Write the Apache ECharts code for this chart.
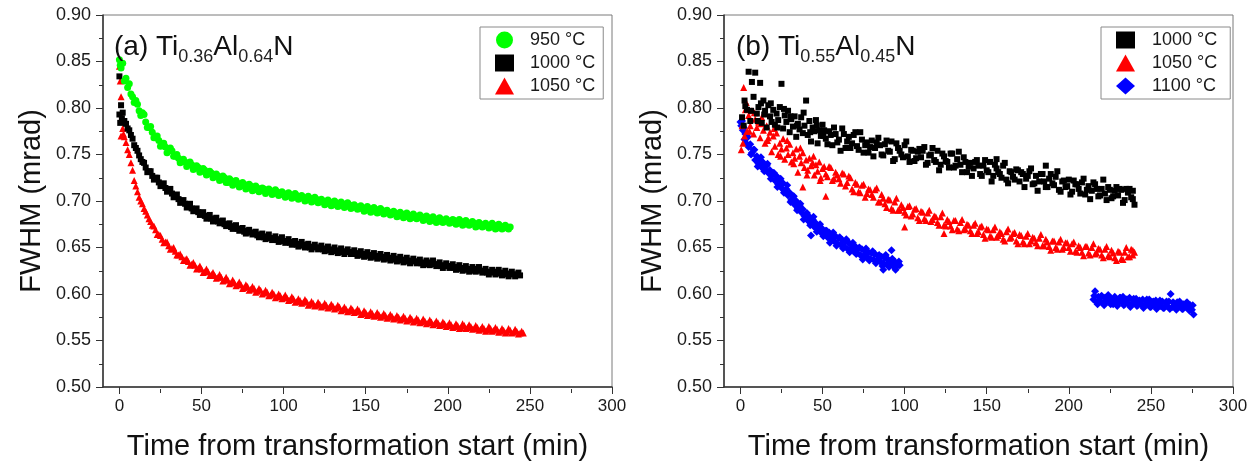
<!DOCTYPE html>
<html>
<head>
<meta charset="utf-8">
<script src="https://cdn.jsdelivr.net/npm/echarts@6/dist/echarts.min.js"></script>
<style>
html,body{margin:0;padding:0;background:#fff;}
#chart{width:1258px;height:466px;}
</style>
</head>
<body>
<div id="chart"></div>
<script>
// ---------- data (time in min, FWHM in mrad) ----------
const xTickLabels = [0, 50, 100, 150, 200, 250, 300];
const xMinorTicks = [25, 75, 125, 175, 225, 275];
const yTickLabels = [0.50, 0.55, 0.60, 0.65, 0.70, 0.75, 0.80, 0.85, 0.90];

// (a) Ti0.36Al0.64N
const a950 = [[0,0.852],[0.5,0.846],[1,0.843],[2,0.848],[3,0.829],[4,0.832],[5,0.822],[6,0.826],[7,0.815],[8,0.812],[9,0.806],[10,0.808],
[12,0.797],[14,0.795],[16,0.785],[18,0.779],[20,0.774],[22,0.768],[24,0.765],[26,0.760],[28,0.758],[30,0.754],[32,0.754],[34,0.748],[36,0.746],[38,0.743],[40,0.742],[42,0.739],[44,0.739],[46,0.735],[48,0.736],[50,0.732],[52,0.733],[54,0.729],[56,0.730],[58,0.726],[60,0.727],[62,0.723],[64,0.725],[66,0.720],[68,0.722],[70,0.719],[72,0.719],[74,0.716],[76,0.718],[78,0.714],[80,0.716],[82,0.712],[84,0.714],[86,0.711],[88,0.713],[90,0.710],[92,0.711],[94,0.708],[96,0.710],[98,0.707],[100,0.708],[102,0.705],[104,0.707],[106,0.704],[108,0.706],[110,0.703],[112,0.704],[114,0.701],[116,0.703],[118,0.700],[120,0.702],[122,0.699],[124,0.700],[126,0.697],[128,0.699],[130,0.696],[132,0.698],[134,0.695],[136,0.697],[138,0.694],[140,0.696],[142,0.693],[144,0.694],[146,0.692],[148,0.693],[150,0.690],[152,0.692],[154,0.689],[156,0.691],[158,0.688],[160,0.690],[162,0.687],[164,0.688],[166,0.686],[168,0.687],[170,0.684],[172,0.686],[174,0.683],[176,0.685],[178,0.682],[180,0.684],[182,0.682],[184,0.683],[186,0.680],[188,0.682],[190,0.679],[192,0.681],[194,0.678],[196,0.680],[198,0.678],[200,0.679],[202,0.677],[204,0.679],[206,0.676],[208,0.678],[210,0.675],[212,0.677],[214,0.675],[216,0.676],[218,0.673],[220,0.675],[222,0.673],[224,0.674],[226,0.672],[228,0.674],[230,0.671],[232,0.673],[234,0.671],[236,0.672],[238,0.672]];
const a950Odd = [[11,0.804],[13,0.792],[15,0.793],[17,0.779],[19,0.780],[21,0.768],[23,0.770],[25,0.759],[27,0.762],[29,0.752],[31,0.757],[33,0.748],[35,0.750],[37,0.741],[39,0.745],[41,0.737],[43,0.742],[45,0.734],[47,0.738],[49,0.731],[51,0.735],[53,0.728],[55,0.732],[57,0.725],[59,0.729],[61,0.722],[63,0.727],[65,0.720],[67,0.724],[69,0.717],[71,0.722],[73,0.715],[75,0.720],[77,0.713],[79,0.718],[81,0.711],[83,0.716],[85,0.710],[87,0.714],[89,0.708],[91,0.713],[93,0.707],[95,0.712],[97,0.706],[99,0.710],[101,0.704],[103,0.709],[105,0.703],[107,0.708],[109,0.702],[111,0.706],[113,0.700],[115,0.705],[117,0.699],[119,0.704],[121,0.698],[123,0.702],[125,0.696],[127,0.701],[129,0.695],[131,0.700],[133,0.694],[135,0.699],[137,0.693],[139,0.698],[141,0.692],[143,0.696],[145,0.691],[147,0.695],[149,0.689],[151,0.694],[153,0.688],[155,0.693],[157,0.687],[159,0.692],[161,0.686],[163,0.690],[165,0.685],[167,0.689],[169,0.683],[171,0.688],[173,0.682],[175,0.687],[177,0.681],[179,0.686],[181,0.681],[183,0.685],[185,0.679],[187,0.684],[189,0.678],[191,0.683],[193,0.677],[195,0.682],[197,0.677],[199,0.681],[201,0.676],[203,0.680],[205,0.675],[207,0.680],[209,0.674],[211,0.679],[213,0.674],[215,0.678],[217,0.672],[219,0.677],[221,0.672],[223,0.676],[225,0.671],[227,0.676],[229,0.670],[231,0.675],[233,0.670],[235,0.674],[237,0.670]];

const a1000 = [[0,0.834],[0,0.793],[0.5,0.784],[1,0.803],[1.5,0.789],[2,0.795],[3,0.786],[4,0.783],[5,0.778],[6,0.776],[7,0.771],[8,0.767],[9,0.760],[10,0.757],[11,0.754],[12,0.749],[13,0.745],[14,0.742],[16,0.736],[18,0.732],[20,0.727],[22,0.725],[24,0.720],[26,0.718],[28,0.714],[30,0.712],[32,0.708],[34,0.706],[36,0.702],[38,0.700],[40,0.697],[42,0.696],[44,0.692],[46,0.691],[48,0.688],[50,0.687],[52,0.684],[54,0.684],[56,0.681],[58,0.681],[60,0.678],[62,0.678],[64,0.675],[66,0.675],[68,0.672],[70,0.673],[72,0.670],[74,0.670],[76,0.667],[78,0.668],[80,0.666],[82,0.666],[84,0.663],[86,0.664],[88,0.661],[90,0.662],[92,0.660],[94,0.660],[96,0.658],[98,0.659],[100,0.657],[102,0.657],[104,0.655],[106,0.656],[108,0.653],[110,0.654],[112,0.652],[114,0.653],[116,0.650],[118,0.651],[120,0.650],[122,0.650],[124,0.648],[126,0.649],[128,0.647],[130,0.648],[132,0.646],[134,0.647],[136,0.645],[138,0.646],[140,0.645],[142,0.645],[144,0.643],[146,0.644],[148,0.642],[150,0.643],[152,0.641],[154,0.642],[156,0.640],[158,0.641],[160,0.639],[162,0.640],[164,0.638],[166,0.639],[168,0.637],[170,0.638],[172,0.636],[174,0.637],[176,0.635],[178,0.636],[180,0.635],[182,0.635],[184,0.633],[186,0.634],[188,0.632],[190,0.634],[192,0.632],[194,0.632],[196,0.630],[198,0.631],[200,0.630],[202,0.630],[204,0.628],[206,0.629],[208,0.627],[210,0.628],[212,0.626],[214,0.627],[216,0.625],[218,0.627],[220,0.625],[222,0.625],[224,0.623],[226,0.624],[228,0.623],[230,0.624],[232,0.622],[234,0.623],[236,0.621],[238,0.622],[240,0.621],[242,0.621],[244,0.620]];
const a1000Odd = [[15,0.741],[17,0.731],[19,0.732],[21,0.723],[23,0.725],[25,0.716],[27,0.719],[29,0.710],[31,0.713],[33,0.704],[35,0.707],[37,0.698],[39,0.701],[41,0.693],[43,0.697],[45,0.689],[47,0.692],[49,0.685],[51,0.688],[53,0.681],[55,0.685],[57,0.678],[59,0.682],[61,0.676],[63,0.679],[65,0.673],[67,0.676],[69,0.670],[71,0.674],[73,0.668],[75,0.671],[77,0.665],[79,0.669],[81,0.664],[83,0.667],[85,0.661],[87,0.665],[89,0.659],[91,0.664],[93,0.658],[95,0.662],[97,0.656],[99,0.661],[101,0.655],[103,0.659],[105,0.653],[107,0.657],[109,0.651],[111,0.656],[113,0.650],[115,0.654],[117,0.648],[119,0.653],[121,0.648],[123,0.652],[125,0.646],[127,0.651],[129,0.645],[131,0.650],[133,0.644],[135,0.649],[137,0.643],[139,0.648],[141,0.643],[143,0.647],[145,0.641],[147,0.646],[149,0.640],[151,0.645],[153,0.639],[155,0.644],[157,0.638],[159,0.643],[161,0.637],[163,0.642],[165,0.636],[167,0.641],[169,0.635],[171,0.640],[173,0.634],[175,0.639],[177,0.633],[179,0.638],[181,0.633],[183,0.637],[185,0.631],[187,0.636],[189,0.631],[191,0.636],[193,0.630],[195,0.634],[197,0.628],[199,0.633],[201,0.628],[203,0.632],[205,0.626],[207,0.631],[209,0.625],[211,0.630],[213,0.624],[215,0.629],[217,0.624],[219,0.629],[221,0.623],[223,0.627],[225,0.621],[227,0.626],[229,0.621],[231,0.626],[233,0.620],[235,0.625],[237,0.619],[239,0.624],[241,0.619],[243,0.623]];

const a1050 = [[0,0.845],[0.5,0.829],[1,0.812],[1,0.770],[1.5,0.790],[2,0.778],[2.5,0.772],[3,0.769],[4,0.763],[5,0.755],[6,0.750],[7,0.741],[8,0.733],[9,0.722],[10,0.716],[11,0.710],[12,0.704],[13,0.700],[14,0.697],[15,0.692],[16,0.689],[17,0.685],[18,0.681],[19,0.678],[20,0.674],[22,0.669],[24,0.664],[26,0.659],[28,0.656],[30,0.652],[32,0.649],[34,0.646],[36,0.642],[38,0.640],[40,0.637],[42,0.635],[44,0.632],[46,0.631],[48,0.628],[50,0.627],[52,0.624],[54,0.624],[56,0.621],[58,0.620],[60,0.618],[62,0.618],[64,0.615],[66,0.615],[68,0.612],[70,0.612],[72,0.610],[74,0.610],[76,0.607],[78,0.608],[80,0.605],[82,0.606],[84,0.603],[86,0.604],[88,0.601],[90,0.602],[92,0.599],[94,0.600],[96,0.597],[98,0.598],[100,0.596],[102,0.596],[104,0.594],[106,0.595],[108,0.592],[110,0.593],[112,0.591],[114,0.592],[116,0.589],[118,0.590],[120,0.588],[122,0.589],[124,0.587],[126,0.588],[128,0.586],[130,0.587],[132,0.585],[134,0.586],[136,0.583],[138,0.584],[140,0.582],[142,0.583],[144,0.581],[146,0.582],[148,0.579],[150,0.580],[152,0.578],[154,0.579],[156,0.577],[158,0.578],[160,0.576],[162,0.577],[164,0.575],[166,0.576],[168,0.574],[170,0.575],[172,0.573],[174,0.574],[176,0.572],[178,0.573],[180,0.571],[182,0.572],[184,0.570],[186,0.571],[188,0.569],[190,0.570],[192,0.568],[194,0.569],[196,0.567],[198,0.568],[200,0.566],[202,0.567],[204,0.565],[206,0.566],[208,0.564],[210,0.566],[212,0.564],[214,0.565],[216,0.563],[218,0.564],[220,0.562],[222,0.563],[224,0.561],[226,0.563],[228,0.561],[230,0.562],[232,0.560],[234,0.561],[236,0.559],[238,0.561],[240,0.559],[242,0.560],[244,0.558],[246,0.558]];
const a1050Odd = [[21,0.673],[23,0.664],[25,0.663],[27,0.655],[29,0.656],[31,0.648],[33,0.650],[35,0.642],[37,0.643],[39,0.636],[41,0.638],[43,0.631],[45,0.634],[47,0.627],[49,0.630],[51,0.623],[53,0.627],[55,0.620],[57,0.623],[59,0.617],[61,0.621],[63,0.614],[65,0.618],[67,0.611],[69,0.615],[71,0.609],[73,0.613],[75,0.606],[77,0.610],[79,0.604],[81,0.608],[83,0.602],[85,0.606],[87,0.600],[89,0.604],[91,0.598],[93,0.602],[95,0.596],[97,0.600],[99,0.595],[101,0.599],[103,0.593],[105,0.597],[107,0.591],[109,0.595],[111,0.590],[113,0.594],[115,0.588],[117,0.592],[119,0.587],[121,0.591],[123,0.586],[125,0.590],[127,0.585],[129,0.589],[131,0.584],[133,0.588],[135,0.582],[137,0.586],[139,0.581],[141,0.585],[143,0.580],[145,0.584],[147,0.578],[149,0.582],[151,0.577],[153,0.581],[155,0.576],[157,0.580],[159,0.575],[161,0.579],[163,0.574],[165,0.578],[167,0.573],[169,0.577],[171,0.572],[173,0.576],[175,0.571],[177,0.575],[179,0.570],[181,0.574],[183,0.569],[185,0.573],[187,0.568],[189,0.572],[191,0.567],[193,0.571],[195,0.566],[197,0.570],[199,0.565],[201,0.569],[203,0.564],[205,0.568],[207,0.563],[209,0.568],[211,0.563],[213,0.567],[215,0.562],[217,0.566],[219,0.561],[221,0.565],[223,0.560],[225,0.565],[227,0.560],[229,0.564],[231,0.559],[233,0.563],[235,0.558],[237,0.563],[239,0.558],[241,0.562],[243,0.557],[245,0.560]];

// (b) Ti0.55Al0.45N
const b1000 = [[1,0.790],[2,0.781],[3,0.802],[4,0.798],[5,0.839],[6,0.786],[7,0.828],[8,0.812],[9,0.838],[10,0.794],[11,0.801],[12,0.827],[13,0.784],[14,0.808],[15,0.797],[16,0.779],[17,0.803],[18,0.791],[19,0.785],[20,0.798],[21,0.782],[22,0.794],[23,0.787],[24,0.801],[25,0.826],[26,0.778],[27,0.792],[28,0.785],[29,0.797],[30,0.774],[31,0.788],[32,0.780],[33,0.791],[34,0.769],[35,0.783],[36,0.777],[37,0.790],[38,0.773],[39,0.781],[40,0.808],[41,0.771],[42,0.786],[43,0.764],[44,0.779],[45,0.775],[46,0.787],[47,0.762],[48,0.776],[49,0.770],[50,0.782],[52,0.767],[54,0.775],[56,0.760],[58,0.772],[60,0.766],[62,0.778],[64,0.757],[66,0.769],[68,0.762],[70,0.774],[72,0.755],[74,0.766],[76,0.760],[78,0.752],[80,0.765],[82,0.757],[84,0.768],[86,0.750],[88,0.761],[90,0.754],[92,0.764],[94,0.745],[96,0.757],[98,0.750],[100,0.760],[102,0.748],[104,0.755],[106,0.743],[108,0.753],[110,0.747],[112,0.758],[114,0.741],[116,0.750],[118,0.744],[120,0.754],[122,0.739],[124,0.748],[126,0.742],[128,0.751],[130,0.736],[132,0.745],[134,0.739],[136,0.747],[138,0.731],[140,0.741],[142,0.735],[144,0.744],[146,0.729],[148,0.738],[150,0.733],[152,0.742],[154,0.727],[156,0.735],[158,0.729],[160,0.738],[162,0.723],[164,0.732],[166,0.726],[168,0.734],[170,0.721],[172,0.729],[174,0.724],[176,0.732],[178,0.718],[180,0.727],[182,0.721],[184,0.729],[186,0.715],[188,0.724],[190,0.719],[192,0.726],[194,0.712],[196,0.721],[198,0.715],[200,0.723],[202,0.710],[204,0.718],[206,0.713],[208,0.720],[210,0.707],[212,0.716],[214,0.711],[216,0.718],[218,0.705],[220,0.713],[222,0.708],[224,0.715],[226,0.703],[228,0.711],[230,0.706],[232,0.712],[234,0.701],[236,0.709],[238,0.704],[239,0.711],[240,0.696]];
const b1000Extra = [[2.5,0.808],[6.5,0.797],[10.5,0.786],[12.5,0.805],[14.5,0.793],[18.5,0.805],[22.5,0.779],[26.5,0.799],[30.5,0.791],[34.5,0.781],[38.5,0.795],[42.5,0.774],[46.5,0.781],[50.5,0.770],[51,0.776],[53,0.761],[55,0.771],[57,0.779],[59,0.763],[61,0.754],[63,0.772],[65,0.764],[67,0.757],[69,0.771],[71,0.759],[73,0.774],[75,0.752],[77,0.763],[79,0.758],[81,0.748],[83,0.763],[85,0.760],[87,0.749],[89,0.765],[91,0.753],[93,0.743],[95,0.762],[97,0.754],[99,0.747],[101,0.764],[103,0.742],[105,0.754],[107,0.746],[109,0.756],[111,0.754],[113,0.739],[115,0.749],[117,0.757],[119,0.742],[121,0.733],[123,0.751],[125,0.743],[127,0.736],[129,0.751],[131,0.738],[133,0.753],[135,0.731],[137,0.742],[139,0.737],[141,0.727],[143,0.742],[145,0.738],[147,0.727],[149,0.744],[151,0.731],[153,0.721],[155,0.739],[156,0.745],[157,0.731],[159,0.725],[161,0.741],[163,0.719],[165,0.731],[167,0.723],[169,0.733],[171,0.731],[173,0.715],[175,0.727],[177,0.735],[179,0.719],[181,0.711],[183,0.729],[185,0.721],[186,0.738],[187,0.715],[189,0.729],[191,0.717],[193,0.732],[195,0.710],[197,0.722],[199,0.716],[201,0.707],[203,0.722],[205,0.718],[207,0.708],[209,0.724],[211,0.712],[213,0.702],[215,0.720],[217,0.713],[219,0.706],[221,0.723],[223,0.701],[225,0.712],[227,0.705],[229,0.715],[231,0.713],[233,0.698],[235,0.713],[237,0.713],[239,0.702]];

const b1050 = [[0.5,0.755],[1,0.781],[1.5,0.762],[2,0.822],[2.5,0.770],[3,0.798],[3.5,0.806],[4,0.775],[5,0.792],[6,0.781],[7,0.797],[8,0.772],[9,0.788],[10,0.779],[11,0.785],[12,0.768],[13,0.790],[14,0.776],[15,0.762],[16,0.781],[17,0.768],[18,0.774],[19,0.753],[20,0.770],[21,0.759],[22,0.773],[23,0.750],[24,0.762],[25,0.756],[26,0.767],[27,0.745],[28,0.757],[29,0.750],[30,0.761],[31,0.742],[32,0.752],[33,0.746],[34,0.756],[35,0.731],[36,0.748],[37,0.741],[38,0.752],[38,0.715],[39,0.736],[40,0.744],[41,0.733],[42,0.746],[43,0.738],[44,0.741],[45,0.728],[46,0.739],[47,0.732],[48,0.742],[49,0.725],[50,0.735],[52,0.729],[52,0.705],[54,0.737],[56,0.722],[58,0.731],[60,0.724],[62,0.730],[64,0.716],[66,0.727],[68,0.713],[70,0.720],[72,0.710],[74,0.717],[76,0.704],[78,0.713],[80,0.707],[82,0.712],[84,0.699],[86,0.707],[88,0.697],[90,0.702],[92,0.692],[94,0.699],[96,0.690],[98,0.696],[100,0.688],[100,0.672],[102,0.694],[104,0.684],[106,0.691],[108,0.682],[110,0.689],[112,0.681],[114,0.687],[116,0.678],[118,0.684],[120,0.677],[122,0.683],[124,0.674],[124,0.665],[126,0.680],[128,0.673],[130,0.679],[132,0.670],[134,0.677],[136,0.669],[138,0.675],[140,0.668],[142,0.674],[144,0.665],[146,0.672],[148,0.664],[150,0.670],[152,0.662],[154,0.669],[156,0.661],[158,0.667],[160,0.659],[162,0.667],[164,0.660],[166,0.665],[168,0.657],[170,0.664],[172,0.656],[174,0.662],[176,0.654],[178,0.661],[180,0.655],[182,0.660],[184,0.652],[186,0.659],[188,0.651],[190,0.657],[192,0.650],[194,0.656],[196,0.648],[198,0.655],[200,0.650],[202,0.654],[204,0.646],[206,0.652],[208,0.645],[210,0.651],[212,0.644],[214,0.650],[216,0.643],[218,0.649],[220,0.642],[222,0.648],[224,0.641],[226,0.647],[228,0.639],[230,0.646],[232,0.638],[234,0.645],[236,0.640],[238,0.648],[239,0.642],[240,0.645]];
const b1050Extra = [[5.5,0.775],[8.5,0.795],[12.5,0.783],[16.5,0.765],[20.5,0.778],[24.5,0.748],[28.5,0.765],[32.5,0.740],[36.5,0.757],[40.5,0.728],[44.5,0.748],[48.5,0.722],[51,0.737],[53,0.726],[55,0.736],[57,0.724],[59,0.728],[61,0.719],[63,0.729],[65,0.720],[67,0.725],[69,0.710],[71,0.718],[73,0.709],[75,0.718],[77,0.708],[79,0.712],[81,0.704],[83,0.714],[85,0.699],[87,0.703],[89,0.693],[91,0.701],[93,0.690],[95,0.703],[97,0.690],[99,0.693],[101,0.685],[103,0.695],[105,0.686],[107,0.692],[109,0.679],[111,0.688],[113,0.679],[115,0.690],[117,0.680],[119,0.683],[121,0.674],[123,0.687],[125,0.673],[127,0.678],[129,0.669],[131,0.679],[133,0.668],[135,0.680],[137,0.670],[139,0.674],[141,0.665],[143,0.676],[145,0.667],[147,0.673],[149,0.660],[151,0.669],[153,0.661],[155,0.672],[157,0.663],[159,0.665],[161,0.657],[163,0.670],[165,0.661],[167,0.666],[169,0.654],[171,0.663],[173,0.654],[175,0.665],[177,0.657],[179,0.660],[181,0.652],[183,0.664],[185,0.652],[187,0.656],[189,0.647],[191,0.657],[193,0.648],[195,0.659],[197,0.650],[199,0.655],[201,0.646],[203,0.656],[205,0.645],[207,0.650],[209,0.641],[211,0.651],[213,0.642],[215,0.654],[217,0.644],[219,0.648],[221,0.639],[223,0.651],[225,0.640],[227,0.644],[229,0.636],[231,0.645],[233,0.637],[235,0.650],[237,0.640],[239,0.647]];

const b1100 = [[0,0.785],[0.5,0.781],[1,0.786],[1.5,0.776],[2,0.779],[2.5,0.766],[3,0.772],[3.5,0.762],[4,0.768],[5,0.758],[6,0.761],[7,0.752],[8,0.755],[9,0.744],[10,0.748],[11,0.740],[12,0.744],[13,0.736],[14,0.741],[15,0.734],[16,0.738],[17,0.730],[18,0.733],[19,0.727],[20,0.730],[21,0.722],[22,0.727],[23,0.718],[24,0.722],[25,0.714],[26,0.719],[27,0.710],[28,0.713],[29,0.706],[30,0.709],[31,0.701],[32,0.705],[33,0.696],[34,0.700],[35,0.692],[36,0.695],[37,0.688],[38,0.691],[39,0.684],[40,0.686],[41,0.679],[42,0.683],[43,0.676],[43,0.663],[44,0.680],[45,0.672],[46,0.676],[47,0.670],[48,0.673],[49,0.666],[50,0.670],[51,0.664],[52,0.668],[53,0.661],[54,0.666],[55,0.659],[56,0.663],[57,0.657],[58,0.662],[59,0.654],[60,0.660],[61,0.653],[62,0.658],[63,0.651],[64,0.656],[65,0.649],[66,0.655],[67,0.648],[68,0.652],[69,0.646],[70,0.651],[71,0.644],[72,0.649],[73,0.642],[74,0.648],[75,0.641],[76,0.646],[77,0.640],[78,0.645],[79,0.638],[80,0.644],[81,0.637],[82,0.643],[83,0.636],[84,0.641],[85,0.635],[86,0.640],[87,0.633],[87,0.626],[88,0.639],[89,0.632],[90,0.637],[91,0.631],[92,0.636],[92,0.647],[93,0.630],[94,0.635],[95,0.629],[96,0.633],[97,0.631],
[215,0.594],[216,0.603],[217,0.591],[218,0.597],[219,0.593],[220,0.598],[221,0.590],[222,0.596],[223,0.592],[224,0.599],[225,0.591],[226,0.595],[227,0.589],[228,0.597],[229,0.593],[230,0.590],[231,0.596],[232,0.592],[233,0.597],[234,0.589],[235,0.594],[236,0.590],[237,0.596],[238,0.588],[239,0.593],[240,0.591],[241,0.595],[242,0.588],[243,0.593],[244,0.589],[245,0.594],[246,0.587],[247,0.592],[248,0.589],[249,0.594],[250,0.586],[251,0.591],[252,0.588],[253,0.593],[254,0.586],[255,0.590],[256,0.587],[257,0.592],[258,0.585],[259,0.590],[260,0.587],[261,0.592],[262,0.600],[263,0.586],[264,0.590],[265,0.585],[266,0.591],[267,0.587],[268,0.590],[269,0.584],[270,0.589],[271,0.586],[272,0.591],[273,0.584],[274,0.588],[275,0.583],[276,0.578]];
const b1100Extra = [[4.5,0.769],[6.5,0.750],[8.5,0.755],[10.5,0.737],[12.5,0.747],[14.5,0.732],[16.5,0.740],[18.5,0.724],[20.5,0.730],[22.5,0.715],[24.5,0.724],[26.5,0.709],[28.5,0.717],[30.5,0.699],[32.5,0.705],[34.5,0.690],[36.5,0.697],[38.5,0.680],[40.5,0.687],[42.5,0.674],[44.5,0.683],[46.5,0.667],[48.5,0.675],[50.5,0.662],[52.5,0.668],[54.5,0.655],[56.5,0.666],[58.5,0.652],[60.5,0.661],[62.5,0.649],[64.5,0.659],[66.5,0.645],[68.5,0.655],[70.5,0.643],[72.5,0.650],[74.5,0.637],[76.5,0.649],[78.5,0.636],[80.5,0.646],[82.5,0.633],[84.5,0.642],[86.5,0.630],[88.5,0.642],[90.5,0.629],[92.5,0.638],[94.5,0.626],[96.5,0.635],
[215.5,0.598],[217.5,0.589],[219.5,0.597],[221.5,0.588],[223.5,0.596],[225.5,0.589],[227.5,0.595],[229.5,0.587],[231.5,0.596],[233.5,0.588],[235.5,0.594],[237.5,0.586],[239.5,0.595],[241.5,0.587],[243.5,0.592],[245.5,0.585],[247.5,0.594],[249.5,0.586],[251.5,0.592],[253.5,0.584],[255.5,0.593],[257.5,0.585],[259.5,0.592],[261.5,0.584],[263.5,0.591],[265.5,0.583],[267.5,0.592],[269.5,0.584],[271.5,0.590],[273.5,0.582],[275.5,0.588]];

// ---------- chart ----------
const FONT = "'Liberation Sans', Arial, sans-serif";
const GREEN = '#00ff00', BLACK = '#000000', RED = '#ff0000', BLUE = '#0000ff';

const chart = echarts.init(document.getElementById('chart'), null, {renderer: 'canvas'});

const gridPos = [
  {left: 103, top: 15, width: 509, height: 374},
  {left: 724, top: 15, width: 509, height: 374}
];

const grids = [];
gridPos.forEach(g => grids.push(Object.assign({show: true, borderColor: '#7a7a7a', borderWidth: 1, backgroundColor: 'transparent'}, g)));
gridPos.forEach(g => grids.push(Object.assign({show: false}, g)));

function xMain(gi) {
  return {
    type: 'value', gridIndex: gi, min: -10, max: 300, position: 'bottom',
    axisLine: {show: true, onZero: false, lineStyle: {color: '#333', width: 1.5}},
    axisTick: {show: true, inside: false, length: 7, customValues: xTickLabels, lineStyle: {color: '#333', width: 1}},
    axisLabel: {customValues: xTickLabels, fontSize: 17, color: '#1a1a1a', margin: 11, fontFamily: FONT},
    splitLine: {show: false},
    name: 'Time from transformation start (min)', nameLocation: 'middle', nameGap: 45,
    nameTextStyle: {fontSize: 29, color: '#111', fontFamily: FONT}
  };
}
function xMinor(gi) {
  return {
    type: 'value', gridIndex: gi, min: -10, max: 300, position: 'bottom',
    axisLine: {show: false, onZero: false},
    axisTick: {show: true, inside: false, length: 4, customValues: xMinorTicks, lineStyle: {color: '#333', width: 1}},
    axisLabel: {show: false},
    splitLine: {show: false}
  };
}
function yMain(gi) {
  return {
    type: 'value', gridIndex: gi, min: yTickLabels[0], max: yTickLabels[yTickLabels.length - 1], interval: 0.05,
    axisLine: {show: true, onZero: false, lineStyle: {color: '#333', width: 1.5}},
    axisTick: {show: true, inside: false, length: 7, lineStyle: {color: '#333', width: 1}},
    minorTick: {show: true, splitNumber: 2, length: 4, lineStyle: {color: '#333', width: 1}},
    axisLabel: {fontSize: 18, color: '#1a1a1a', margin: 12, fontFamily: FONT, formatter: v => v.toFixed(2)},
    splitLine: {show: false},
    name: 'FWHM (mrad)', nameLocation: 'middle', nameGap: 57,
    nameTextStyle: {fontSize: 29, color: '#111', fontFamily: FONT}
  };
}
function yHidden(gi) {
  return {type: 'value', gridIndex: gi, min: 0.5, max: 0.9, show: false};
}

function sc(name, data, xi, yi, symbol, size, color) {
  return {
    type: 'scatter', name: name, data: data, xAxisIndex: xi, yAxisIndex: yi,
    symbol: symbol, symbolSize: size, itemStyle: {color: color, opacity: 1},
    emphasis: {disabled: true}, silent: true
  };
}

const richTitle = {
  m: {fontSize: 28, lineHeight: 34, fontWeight: 'normal', color: '#111', fontFamily: FONT},
  s: {fontSize: 18, lineHeight: 14, padding: [20, 0, 0, 0], fontWeight: 'normal', color: '#222', fontFamily: FONT}
};

function legendOpt(left, names, padLeftText) {
  return {
    orient: 'vertical', left: left, top: 27,
    data: names,
    itemWidth: 19, itemHeight: 17, itemGap: 5,
    padding: [4, 8, 4, 15],
    borderColor: '#8a8a8a', borderWidth: 1, backgroundColor: '#fff',
    selectedMode: false,
    textStyle: {fontSize: 18, color: '#1a1a1a', fontFamily: FONT, padding: [0, 0, 0, padLeftText], lineHeight: 17}
  };
}

const option = {
  animation: false,
  backgroundColor: '#ffffff',
  textStyle: {fontFamily: FONT},
  title: [
    {text: '{m|(a) Ti}{s|0.36}{m|Al}{s|0.64}{m|N}', left: 114, top: 30, padding: 0, textStyle: {fontWeight: 'normal', rich: richTitle}},
    {text: '{m|(b) Ti}{s|0.55}{m|Al}{s|0.45}{m|N}', left: 736, top: 30, padding: 0, textStyle: {fontWeight: 'normal', rich: richTitle}}
  ],
  legend: [
    legendOpt(480, ['950 °C', '1000 °C', '1050 °C'], 11),
    legendOpt(1101, ['1000 °C ', '1050 °C ', '1100 °C'], 12)
  ],
  grid: grids,
  xAxis: [xMain(0), xMain(1), xMinor(2), xMinor(3)],
  yAxis: [yMain(0), yMain(1), yHidden(2), yHidden(3)],
  series: [
    sc('1050 °C', a1050.concat(a1050Odd), 0, 0, 'triangle', 7, RED),
    sc('1000 °C', a1000.concat(a1000Odd), 0, 0, 'rect', 6, BLACK),
    sc('950 °C', a950.concat(a950Odd), 0, 0, 'circle', 7, GREEN),
    sc('1100 °C', b1100.concat(b1100Extra), 1, 1, 'diamond', 8, BLUE),
    sc('1050 °C ', b1050.concat(b1050Extra), 1, 1, 'triangle', 7, RED),
    sc('1000 °C ', b1000.concat(b1000Extra), 1, 1, 'rect', 6, BLACK)
  ]
};
chart.setOption(option);
</script>
</body>
</html>
